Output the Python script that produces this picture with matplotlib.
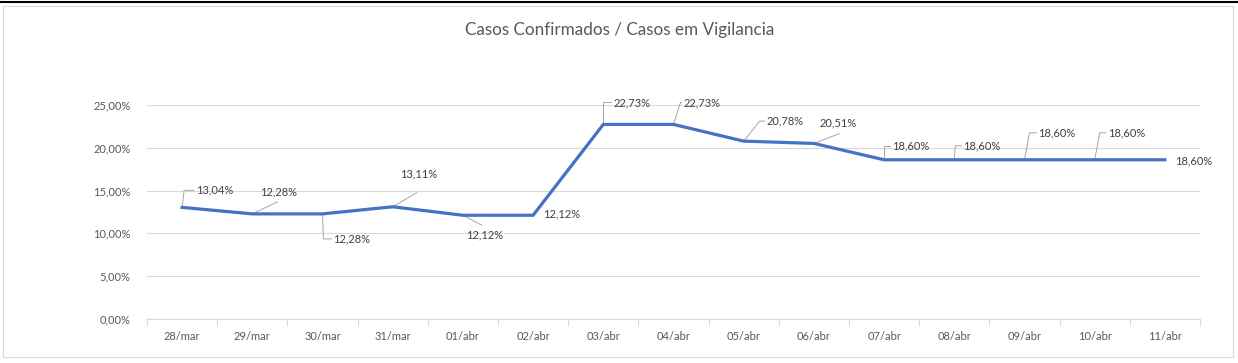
import numpy as np
import matplotlib
matplotlib.use("Agg")
import matplotlib.pyplot as plt
from matplotlib.patches import Rectangle
from matplotlib.lines import Line2D

# data
dates = ["28/mar", "29/mar", "30/mar", "31/mar", "01/abr", "02/abr", "03/abr",
         "04/abr", "05/abr", "06/abr", "07/abr", "08/abr", "09/abr", "10/abr", "11/abr"]
ratio = [13.04, 12.28, 12.28, 13.11, 12.12, 12.12, 22.73,
         22.73, 20.78, 20.51, 18.60, 18.60, 18.60, 18.60, 18.60]
yticks = [0, 5, 10, 15, 20, 25]

# label placement in pixels relative to the point (text left edge, text centre y)
# leader: ("hook", elbow) runs to the text, ("diag", end) stops at end, None = no leader
lab_off = [(14, 17), (8, 22), (11, -25), (7, 33), (3, -20), (10, 1), (10, 22),
           (10, 22), (23, 20), (6, 21), (8, 14), (9, 14), (14, 27), (13, 27), (10, -1)]
leader = [("hook", (2, 17)), ("diag", (25, 12)), ("hook", (1, -25)), ("diag", (24, 14)),
          ("diag", (19, -10)), None, ("hook", (0, 22)), ("hook", (7, 22)),
          ("hook", (16, 20)), ("diag", (26, 10)), ("hook", (0, 14)), ("hook", (1, 14)),
          ("hook", (5, 27)), ("hook", (5, 27)), None]

W, H = 1238, 363
plt.rcParams['font.family'] = ['Lato', 'DejaVu Sans']
fig = plt.figure(figsize=(W / 100, H / 100), dpi=100)

# chart frame
fig.patches.append(Rectangle((3 / W, 6 / H), 1230 / W, 351 / H, transform=fig.transFigure,
                             facecolor="white", edgecolor="#d9d9d9", lw=0.8, zorder=-5))
fig.lines.append(Line2D([0, 1], [1 - 1.5 / H, 1 - 1.5 / H], transform=fig.transFigure,
                        color="black", lw=1.5, zorder=-4))

left, right, bottom, top = 147, 1200, 319, 105
ax = fig.add_axes([left / W, (H - bottom) / H, (right - left) / W, (bottom - top) / H])
ax.set_facecolor("none")
x = np.arange(len(dates))
y = np.array(ratio)
ax.set_xlim(-0.5, len(dates) - 0.5)
ax.set_ylim(0, 25)
ax.plot(x, y, color="#4472C4", lw=2.3, solid_joinstyle="miter", zorder=3)

ax.set_yticks(yticks)
ax.set_yticklabels([f"{v:.2f}%".replace(".", ",") for v in yticks], color="#595959", fontsize=8)
ax.grid(axis="y", color="#d9d9d9", lw=0.8)
ax.tick_params(axis="y", length=0, pad=12)
ax.set_xticks(x)
ax.set_xticklabels(dates, color="#595959", fontsize=8)
ax.set_xticks(np.arange(-0.5, len(dates)), minor=True)
ax.tick_params(axis="x", which="major", length=0, pad=9)
ax.tick_params(axis="x", which="minor", length=5, color="#d9d9d9", width=0.8)
for s in ["top", "right", "left"]:
    ax.spines[s].set_visible(False)
ax.spines["bottom"].set_color("#d9d9d9")
ax.spines["bottom"].set_linewidth(0.8)

fig.text(620 / W, 1 - 30 / H, "Casos Confirmados / Casos em Vigilancia", fontsize=12.3,
         color="#595959", ha="center", va="center")

inv = ax.transData.inverted()
for i in range(len(dates)):
    px, py = ax.transData.transform((x[i], y[i]))
    tx, ty = inv.transform((px + lab_off[i][0], py + lab_off[i][1]))
    ax.text(tx, ty, f"{ratio[i]:.2f}%".replace(".", ","), fontsize=8, color="#404040",
            ha="left", va="center", clip_on=False)
    if leader[i] is None:
        continue
    kind, (dx, dy) = leader[i]
    pts = [(px, py), (px + dx, py + dy)]
    if kind == "hook":
        pts.append((px + lab_off[i][0] - 2, py + lab_off[i][1]))
    pts = inv.transform(pts)
    ax.plot(pts[:, 0], pts[:, 1], color="#a6a6a6", lw=0.7, clip_on=False, zorder=2)

fig.savefig("out.png", dpi=100)
